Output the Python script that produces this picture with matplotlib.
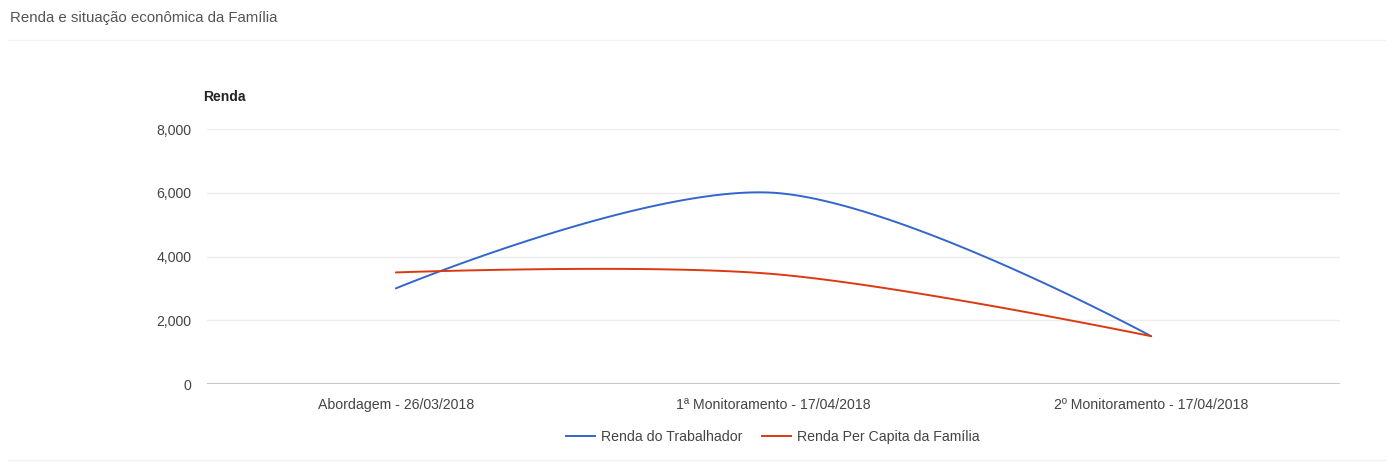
import matplotlib
matplotlib.use("Agg")
import matplotlib.pyplot as plt
from matplotlib.lines import Line2D
import numpy as np

plt.rcParams['font.family'] = ['Liberation Sans', 'DejaVu Sans']

categories = ["Abordagem - 26/03/2018", "1ª Monitoramento - 17/04/2018", "2º Monitoramento - 17/04/2018"]
renda_trabalhador = [3000, 6000, 1500]
renda_per_capita = [3500, 3450, 1500]
series_names = ["Renda do Trabalhador", "Renda Per Capita da Família"]
colors = ["#3366cc", "#dc3912"]
yticks = [0, 2000, 4000, 6000, 8000]


def smooth(values, n=60):
    x = np.arange(len(values), dtype=float)
    y = np.asarray(values, dtype=float)
    m = np.zeros_like(y)
    for i in range(1, len(y) - 1):
        m[i] = (y[i + 1] - y[i - 1]) / 2.0
    xs, ys = [], []
    t = np.linspace(0, 1, n)
    for i in range(len(y) - 1):
        p0 = np.array([x[i], y[i]])
        p3 = np.array([x[i + 1], y[i + 1]])
        p1 = p0 if i == 0 else p0 + np.array([1 / 3, m[i] / 3])
        p2 = p3 if i + 1 == len(y) - 1 else p3 - np.array([1 / 3, m[i + 1] / 3])
        b = ((1 - t) ** 3)[:, None] * p0 + (3 * (1 - t) ** 2 * t)[:, None] * p1 + \
            (3 * (1 - t) * t ** 2)[:, None] * p2 + (t ** 3)[:, None] * p3
        xs.extend(b[:, 0]); ys.extend(b[:, 1])
    return np.array(xs), np.array(ys)


fig = plt.figure(figsize=(13.92, 4.65), dpi=100)
W, H = 1392, 465
ax = fig.add_axes([207 / W, (H - 384) / H, (1340 - 207) / W, 255 / H])

for vals, c in zip([renda_trabalhador, renda_per_capita], colors):
    sx, sy = smooth(vals)
    ax.plot(sx, sy, color=c, lw=1.4, solid_capstyle='round', zorder=3)

ax.set_xlim(-0.5, len(categories) - 0.5)
ax.set_ylim(0, 8000)
ax.set_yticks(yticks)
ax.set_yticklabels([f"{v:,}" for v in yticks])
ax.set_xticks(range(len(categories)))
ax.set_xticklabels(categories)
for s in ax.spines.values():
    s.set_visible(False)
ax.tick_params(length=0, colors="#444444", labelsize=10.2)
ax.tick_params(axis='y', pad=11)
ax.tick_params(axis='x', pad=10)
for v in yticks[1:]:
    ax.axhline(v, color="#ededed", lw=1, zorder=1)
ax.axhline(0, color="#c8c8c8", lw=2.2, zorder=2)

fig.text(203 / W, 1 - 97 / H, "Renda", fontsize=10, fontweight='bold', color="#222222", va='center')
fig.text(10 / W, 1 - 18 / H, "Renda e situação econômica da Família", fontsize=10.8, color="#555555", va='center')
fig.add_artist(Line2D([8 / W, 1385 / W], [1 - 40 / H] * 2, color="#f2f2f2", lw=1))
fig.add_artist(Line2D([8 / W, 1385 / W], [1 - 460 / H] * 2, color="#f2f2f2", lw=1))

handles = [Line2D([], [], color=c, lw=1.4) for c in colors]
fig.legend(handles, series_names, loc='center', bbox_to_anchor=(773 / W, 1 - 437 / H),
           ncol=2, frameon=False, fontsize=10.2, handlelength=2.0, handletextpad=0.45,
           columnspacing=1.4, labelcolor="#444444")

fig.savefig("out.png", dpi=100, facecolor="white")
